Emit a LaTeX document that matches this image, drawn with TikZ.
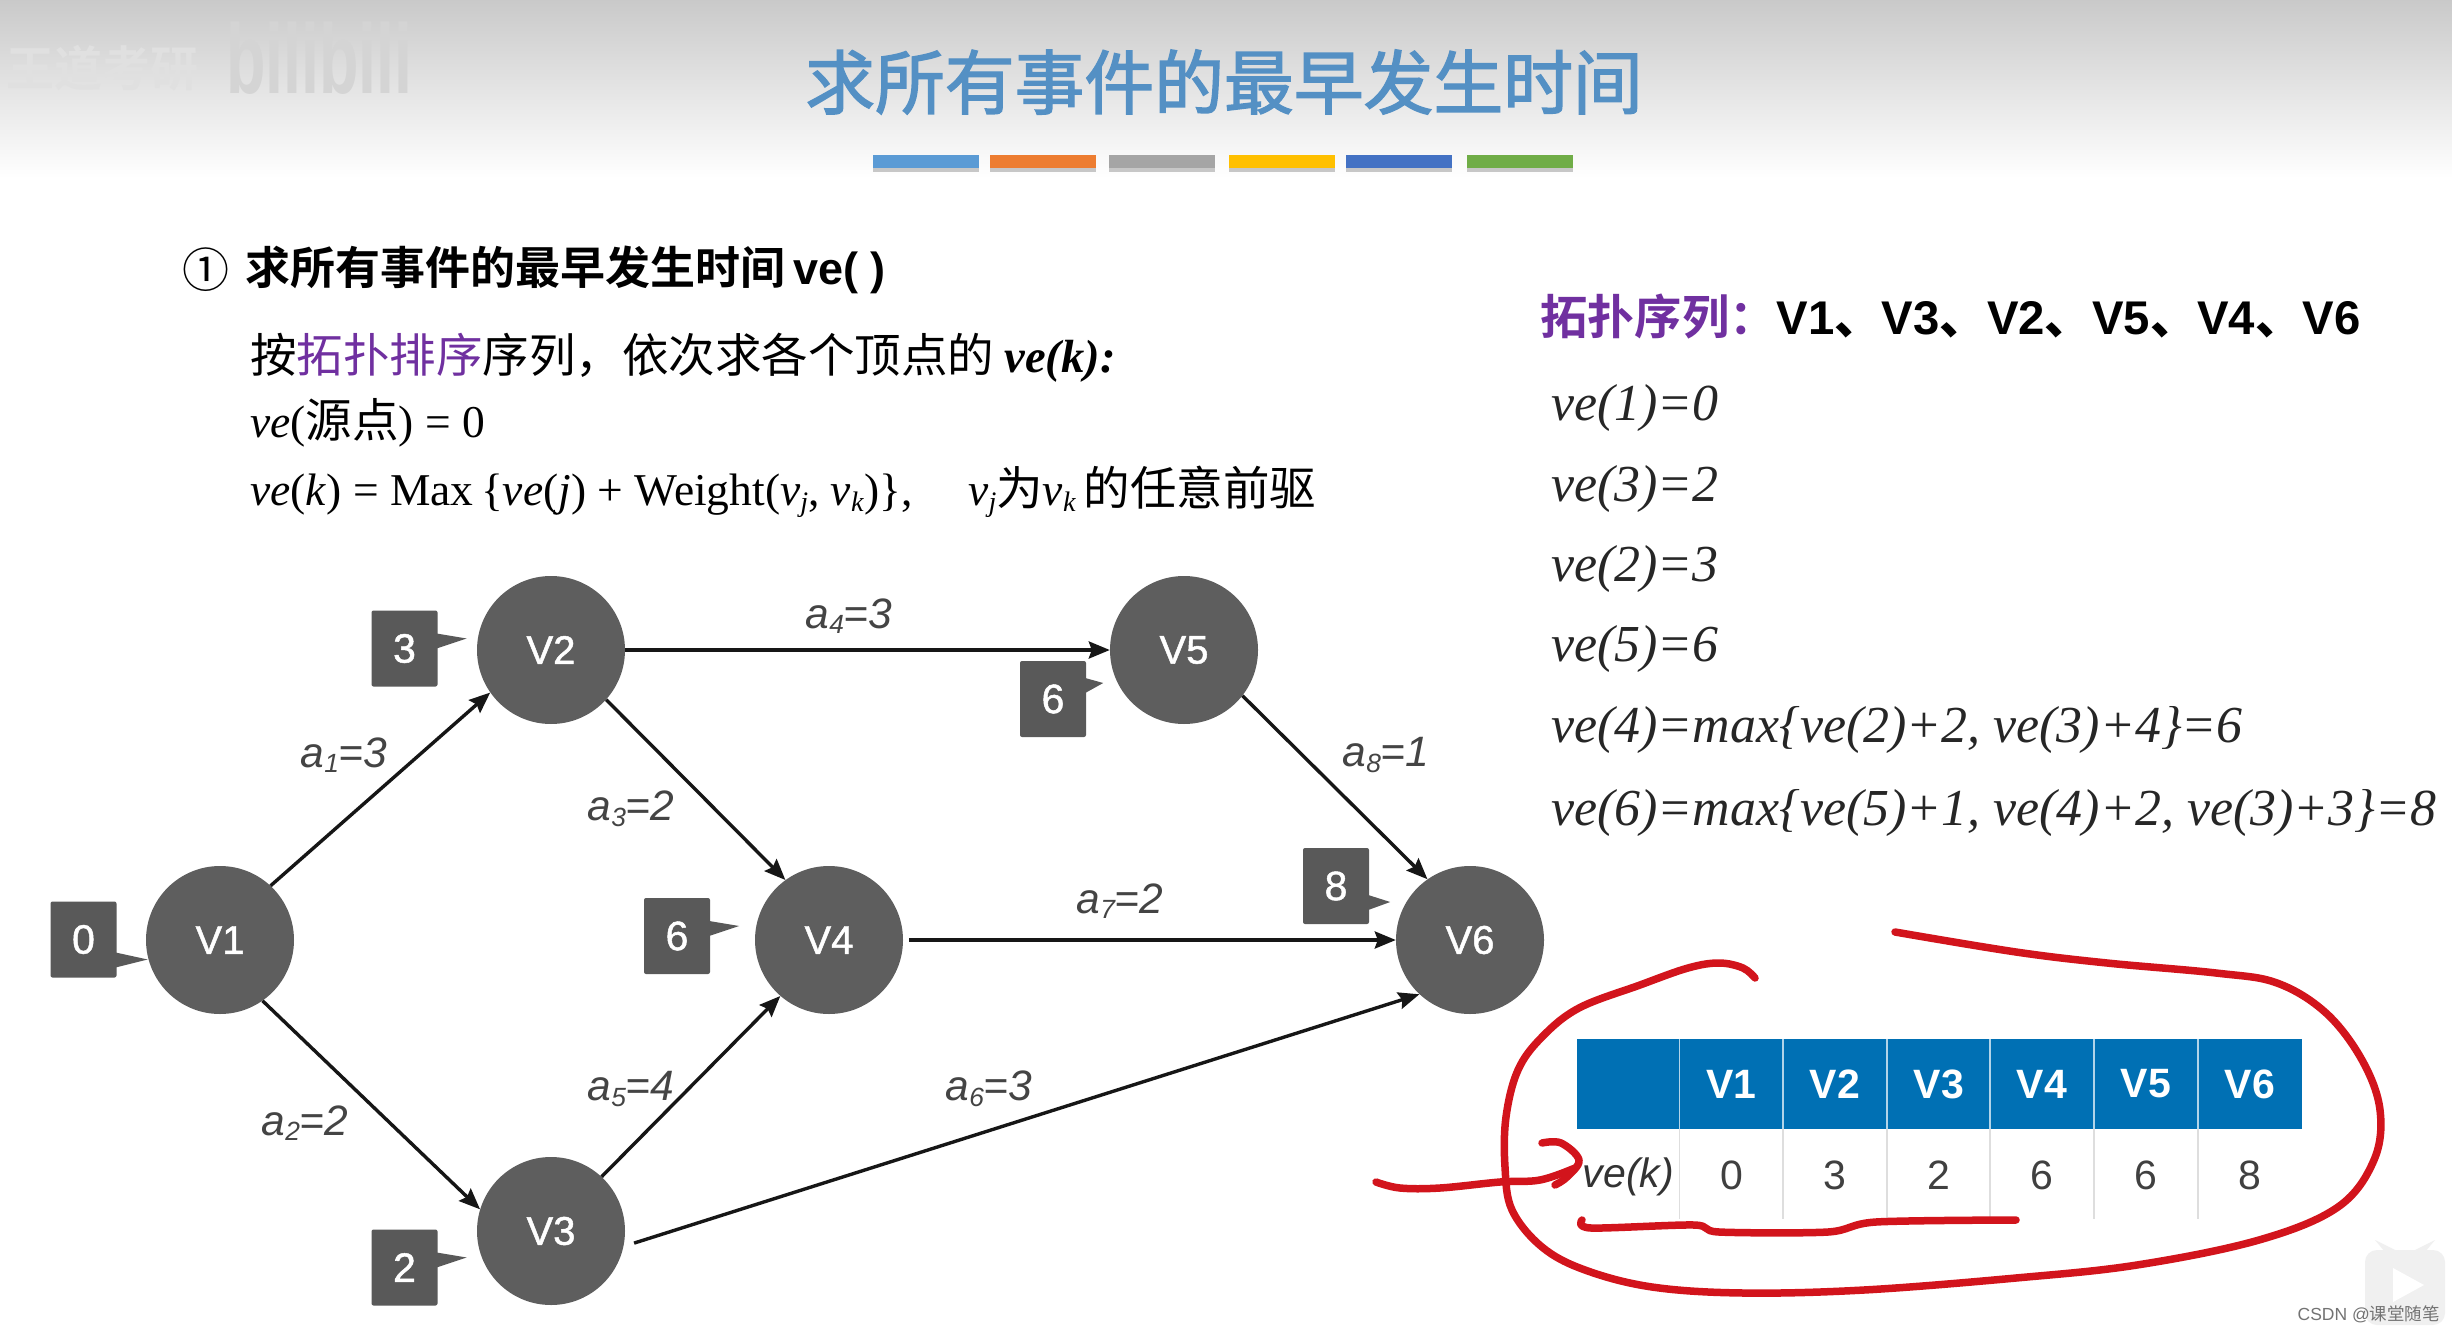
\documentclass[tikz,border=0pt]{standalone}
\usepackage{fontspec}
\usetikzlibrary{arrows.meta,calc}
\setmainfont{Liberation Serif}
\setsansfont{Liberation Sans}
\newfontfamily\cjk{Noto Sans CJK SC}
\newfontfamily\cjkb{Noto Sans CJK SC Bold}
\newfontfamily\cjkfb[FakeBold=2]{Noto Sans CJK SC}
\newfontfamily\sansfb[FakeBold=1.2]{Liberation Sans}
\newcommand{\fsz}[1]{\fontsize{#1}{#1}\selectfont}
\newcommand{\sbs}[1]{\raisebox{-.13em}{\scalebox{.62}{#1}}}
\newcommand{\edgelab}[2]{{\itshape a\sbs{#1}=#2}}
\definecolor{nodegray}{HTML}{5E5E5E}
\definecolor{boxgray}{HTML}{595959}
\definecolor{edgedark}{HTML}{161616}
\definecolor{labgray}{HTML}{444444}
\definecolor{titleblue}{HTML}{5490C4}
\definecolor{purp}{HTML}{7030A0}
\definecolor{tblue}{HTML}{0070B4}
\definecolor{scribble}{HTML}{D2141C}
\tikzset{
  x=1pt,y=-1pt,
  vertex/.style={circle,fill=nodegray,minimum size=148pt,inner sep=0pt,text=white,font=\sansfb\fsz{40}},
  cbox/.style={rectangle,rounded corners=2pt,fill=boxgray,minimum width=66pt,minimum height=76pt,inner sep=0pt,text=white,font=\sansfb\fsz{41}},
  edge/.style={draw=edgedark,line width=3.4pt,-{Stealth[length=21pt,width=17pt,inset=3pt]}},
  elab/.style={text=labgray,font=\sffamily\fsz{42.5},inner sep=0pt},
  txt/.style={anchor=west,inner sep=0pt,text=black},
  form/.style={anchor=west,inner sep=0pt,text=black!85,font=\rmfamily\itshape\fsz{51.9}},
  bar/.style={minimum width=106pt,minimum height=13pt,inner sep=0pt,rectangle},
  thead/.style={rectangle,fill=tblue,minimum width=103.5pt,minimum height=90pt,inner sep=0pt,text=white,font=\sffamily\bfseries\fsz{41}},
  tcell/.style={rectangle,minimum width=103.5pt,minimum height=90pt,inner sep=0pt,text=black!75,font=\sffamily\fsz{41}},
  scr/.style={draw=scribble,line width=7.5pt,line cap=round,line join=round},
}
% name, cx, cy, text, tip dx from east, tip dy, base dy1, base dy2
\newcommand{\callout}[8]{%
  \node[cbox] (#1) at (#2,#3) {#4};
  \fill[boxgray] ($(#1.east)+(-1,#7)$) -- ($(#1.east)+(#5,#6)$) -- ($(#1.east)+(-1,#8)$) -- cycle;
}
\begin{document}
\begin{tikzpicture}
\useasboundingbox (0,0) rectangle (2452,1332);
\fill[white] (0,0) rectangle (2452,1332);
\shade[top color=black!21,bottom color=white] (0,0) rectangle (2452,178);
% watermark
\node[inner sep=0pt,anchor=west,text=black!12,font=\cjkb\fsz{48}] (wm1) at (6,68) {王道考研};
\node[inner sep=0pt,anchor=west,text=black!17,font=\sffamily\bfseries\fsz{76},xscale=.85,yscale=1.3,transform shape] (wm2) at (226,58) {bilibili};
% title
\node[inner sep=0pt,text=titleblue,font=\cjkfb\fsz{69.8}] (title) at (1224,82) {求所有事件的最早发生时间};
% bars
\foreach \n/\x/\c in {a/926/5B9BD5,b/1043/ED7D31,c/1162/A5A5A5,d/1282/FFC000,e/1399/4472C4,f/1520/70AD47}{
  \definecolor{barc}{HTML}{\c}
  \fill[black!22] (\x-53,166) rectangle (\x+53,172);
  \node[bar,fill=barc] (bar\n) at (\x,161.5) {};
}
% left text
\node[txt,font=\cjk\fsz{47}] (cnum) at (182,270) {①};
\node[txt,font=\cjkb\fsz{45}] (h1) at (245,270) {求所有事件的最早发生时间\hspace{8pt}{\sffamily\bfseries ve( )}};
\node[txt,font=\cjk\fsz{46.5}] (l2) at (250,358) {按{\color{purp}拓扑排序}序列，依次求各个顶点的 {\rmfamily\bfseries\itshape ve(k):}};
\node[txt,font=\rmfamily\fsz{45.5}] (l3) at (250,423) {\textit{ve}({\cjk\fsz{46.5}源点}) = 0};
\node[txt,font=\rmfamily\fsz{45.5}] (l4) at (250,492) {\textit{ve}(\textit{k}) = Max\,\{\textit{ve}(\textit{j}) + Weight(\textit{v}\sbs{\textit{j}}, \textit{v}\sbs{\textit{k}})\},\hspace{56pt}\textit{v}\sbs{\textit{j}}{\cjk\fsz{46.5}为}\textit{v}\sbs{\textit{k}}\,{\cjk\fsz{46.5}的任意前驱}};
% right text
\node[txt,font=\cjkb\fsz{47.3}] (r0) at (1540,317) {{\color{purp}拓扑序列：}\sffamily\bfseries V1{\cjkb 、}V3{\cjkb 、}V2{\cjkb 、}V5{\cjkb 、}V4{\cjkb 、}V6};
\node[form] (r1) at (1551,408) {ve(1)=0};
\node[form] (r2) at (1551,489) {ve(3)=2};
\node[form] (r3) at (1551,569) {ve(2)=3};
\node[form] (r4) at (1551,649) {ve(5)=6};
\node[form] (r5) at (1551,730) {ve(4)=max\{ve(2)+2, ve(3)+4\}=6};
\node[form] (r6) at (1551,813) {ve(6)=max\{ve(5)+1, ve(4)+2, ve(3)+3\}=8};
% graph
\node[vertex] (V1) at (220,940) {V1};
\node[vertex] (V2) at (551,650) {V2};
\node[vertex] (V3) at (551,1231) {V3};
\node[vertex] (V4) at (829,940) {V4};
\node[vertex] (V5) at (1184,650) {V5};
\node[vertex] (V6) at (1470,940) {V6};
\draw[edge] (V1.47) -- (V2.215);
\draw[edge] (V1.-55) -- (V3.163);
\draw[edge] (V2.-42) -- (V4.126);
\draw[edge] (V3.47) -- (V4.229);
\draw[edge] (V2) -- (V5);
\draw[edge,shorten <=6pt] (V4) -- (V6);
\draw[edge] (V5.-38) -- (V6.125);
\draw[edge,shorten <=11pt] (V3.-12) -- (V6.227);
\node[elab] (e1) at (344,755) {\edgelab{1}{3}};
\node[elab] (e2) at (305,1123) {\edgelab{2}{2}};
\node[elab] (e3) at (631,809) {\edgelab{3}{2}};
\node[elab] (e4) at (849,616) {\edgelab{4}{3}};
\node[elab] (e5) at (631,1089) {\edgelab{5}{4}};
\node[elab] (e6) at (989,1089) {\edgelab{6}{3}};
\node[elab] (e7) at (1120,901) {\edgelab{7}{2}};
\node[elab] (e8) at (1386,755) {\edgelab{8}{1}};
% callouts
\callout{c0}{83.5}{939.5}{0}{31}{20}{13}{28}
\callout{c3}{404.5}{648.5}{3}{29}{-10}{-15}{0}
\callout{c2}{404.5}{1267.5}{2}{29}{-10}{-15}{0}
\callout{c6a}{677}{936}{6}{29}{-10}{-15}{0}
\callout{c6b}{1053}{699}{6}{17}{-16}{-21}{-6}
\callout{c8}{1336}{886}{8}{21}{16}{9}{24}
% table
\foreach \i/\x/\t/\v in {1/1731.5/V1/0,2/1835/V2/3,3/1939/V3/2,4/2042/V4/6,5/2146/V5/6,6/2250/V6/8}{
  \node[thead] (h\i) at (\x,1084) {\t};
  \node[tcell] (d\i) at (\x,1175) {\v};
}
\node[thead,minimum width=103pt] (h0) at (1628.5,1084) {};
\node[tcell,font=\sffamily\itshape\fsz{41},text=black!80] (d0) at (1628.5,1177) {ve(k)};
\foreach \i in {1,...,6}{
  \draw[white!70!tblue,line width=1.5pt] (h\i.north west) -- (h\i.south west);
  \draw[black!13,line width=1.5pt] (h\i.south west) -- ($(h\i.south west)+(0,90)$);
}
% scribbles
\draw[scr] plot[smooth,tension=.6] coordinates {(1755,978)(1743,968)(1719,963)(1688,968)(1640,985)(1579,1008)(1542,1037)(1518,1070)(1506,1117)(1505,1167)(1512,1210)(1542,1247)(1585,1270)(1652,1287)(1743,1293)(1864,1290)(2016,1278)(2137,1265)(2259,1240)(2338,1207)(2374,1160)(2380,1110)(2362,1060)(2326,1013)(2277,983)(2216,973)(2107,963)(2016,952)(1895,932)};
\draw[scr] plot[smooth,tension=.6] coordinates {(1376,1182)(1400,1188)(1440,1188)(1500,1182)(1540,1180)(1575,1168)};
\draw[scr] plot[smooth,tension=.6] coordinates {(1542,1143)(1561,1143)(1579,1160)(1567,1177)(1555,1185)};
\draw[scr] plot[smooth,tension=.5] coordinates {(1582,1220)(1591,1228)(1694,1225)(1719,1232)(1828,1232)(1876,1222)(2016,1220)};
% player mark and credit
\fill[black!6,rounded corners=12pt] (2365,1250) rectangle (2445,1325);
\fill[black!6] (2385,1252) -- (2375,1240) -- (2395,1250) -- cycle;
\fill[black!6] (2425,1252) -- (2435,1240) -- (2415,1250) -- cycle;
\fill[white] (2393,1268) -- (2393,1302) -- (2424,1285) -- cycle;
\node[inner sep=0pt,anchor=east,text=black!55,font=\sffamily\fsz{17.5}] (credit) at (2440,1314) {CSDN @{\cjk 课堂随笔}};
\end{tikzpicture}
\end{document}
